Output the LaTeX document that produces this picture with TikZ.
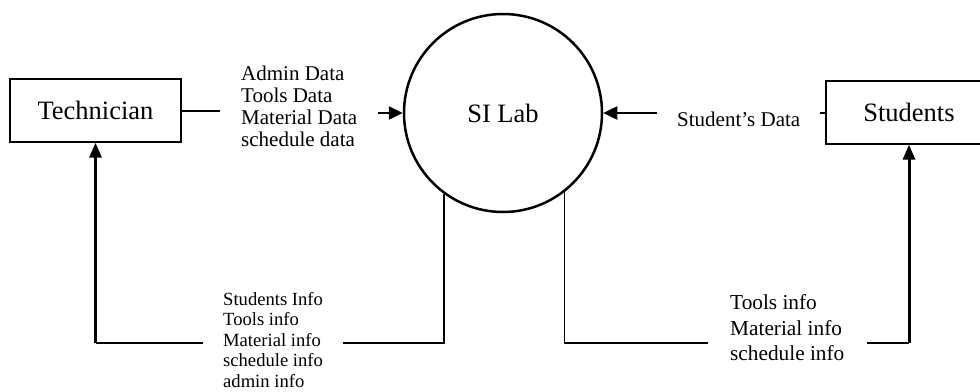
\documentclass[tikz,border=0pt]{standalone}
\usepackage{fontspec}
\setmainfont{Liberation Serif}
\usetikzlibrary{arrows.meta}
\begin{document}
\begin{tikzpicture}[x=1pt,y=-1pt,
  ent/.style={draw,line width=1.3pt,inner sep=0pt,font=\fontsize{26.5}{30}\selectfont},
  proc/.style={draw,circle,line width=2.5pt,minimum size=198pt,inner sep=0pt,font=\fontsize{26.5}{30}\selectfont},
  lab/.style={align=left,inner ysep=0pt},
  thinline/.style={line width=1.3pt},
  flow/.style={line width=2.5pt,-{Triangle[length=14pt,width=13pt]}},
  upflow/.style={line width=3pt,-{Triangle[length=15pt,width=12pt]}}
]
\useasboundingbox (0,0) rectangle (980,391);
% entities and process
\node[ent,minimum width=171pt,minimum height=63pt] (tech) at (95.5,110.5) {Technician};
\node[ent,minimum width=166pt,minimum height=63pt] (stud) at (909,112.5) {Students};
\node[proc] (si) at (503,113) {SI Lab};
% labels
\node[lab,anchor=west,inner xsep=21pt,font=\fontsize{21}{22}\selectfont] (l0) at (220,106)
  {Admin Data\\Tools Data\\Material Data\\schedule data};
\node[lab,anchor=west,inner xsep=20pt,font=\fontsize{21}{22}\selectfont] (l3) at (657,119)
  {Student’s Data};
\node[lab,anchor=west,inner xsep=20pt,font=\fontsize{18.6}{20.5}\selectfont] (l1) at (203,340)
  {Students Info\\Tools info\\Material info\\schedule info\\admin info};
\node[lab,anchor=west,inner xsep=22pt,font=\fontsize{21.3}{25.5}\selectfont] (l2) at (708,328)
  {Tools info\\Material info\\schedule info};
\coordinate (rowb) at (0,343);
% top flows
\draw[line width=2pt] (tech.east) -- (tech.east -| l0.west);
\draw[flow] (l0.east |- si.west) -- (si.west);
\draw[flow] (l3.west |- si.east) -- (si.east);
\draw[line width=2pt] (l3.east |- stud.west) -- (stud.west);
% bottom-left flow
\draw[thinline] (si.234.5) |- (l1.east |- rowb);
\draw[thinline] (l1.west |- rowb) -- (rowb -| tech.south);
\draw[upflow] (rowb -| tech.south) -- (tech.south);
% bottom-right flow
\draw[thinline] (si.308.3) |- (l2.west |- rowb);
\draw[thinline] (l2.east |- rowb) -- (rowb -| stud.south);
\draw[upflow] (rowb -| stud.south) -- (stud.south);
\end{tikzpicture}
\end{document}
